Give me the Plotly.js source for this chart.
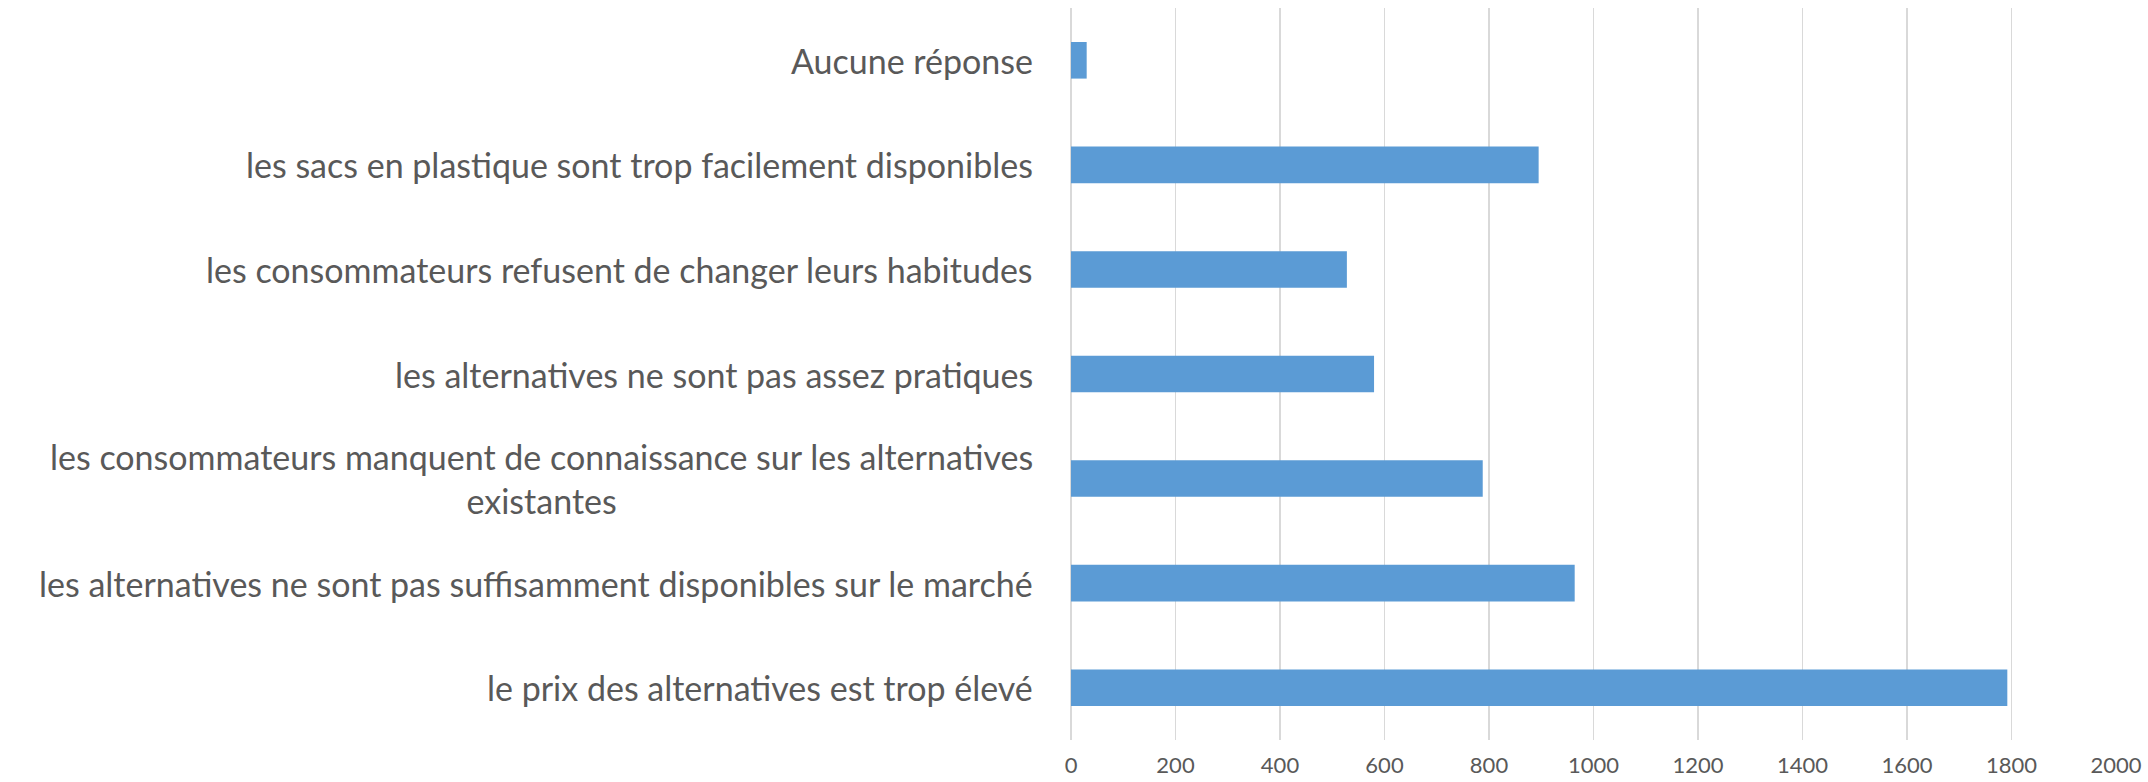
<!DOCTYPE html>
<html>
<head>
<meta charset="utf-8">
<script src="https://cdn.plot.ly/plotly-3.0.1.min.js"></script>
<style>
  html, body { margin: 0; padding: 0; background: #fff; }
  #chart { width: 2148px; height: 782px; }
</style>
</head>
<body>
<div id="chart"></div>
<script>
// categories, top to bottom as in the picture
const categories = [
  'Aucune réponse',
  'les sacs en plastique sont trop facilement disponibles',
  'les consommateurs refusent de changer leurs habitudes',
  'les alternatives ne sont pas assez pratiques',
  'les consommateurs manquent de connaissance sur les alternatives<br>existantes',
  'les alternatives ne sont pas suffisamment disponibles sur le marché',
  'le prix des alternatives est trop élevé'
];
const values = [30, 895, 528, 580, 788, 964, 1792];
const xTicks = [0, 200, 400, 600, 800, 1000, 1200, 1400, 1600, 1800, 2000];

const textFont = "Lato, 'Liberation Sans', sans-serif";
const grey = '#595959';

const trace = {
  type: 'bar',
  orientation: 'h',
  x: values,
  y: categories,
  marker: { color: '#5b9bd5' },
  hoverinfo: 'x+y'
};

// category labels as annotations so the two-line label can be centred like Excel
const labels = categories.map(c => ({
  text: c,
  xref: 'paper', yref: 'y',
  x: 0, y: c,
  xanchor: 'right', yanchor: 'middle',
  xshift: -36,
  align: 'center',
  showarrow: false,
  font: { family: textFont, size: 34, color: grey }
}));

const layout = {
  width: 2148,
  height: 782,
  margin: { l: 1071, r: 32, t: 8, b: 42 },
  paper_bgcolor: '#ffffff',
  plot_bgcolor: '#ffffff',
  bargap: 0.65,
  showlegend: false,
  xaxis: {
    range: [0, 2000],
    tickvals: xTicks,
    ticktext: xTicks.map(String),
    showgrid: true,
    gridcolor: '#d9d9d9',
    gridwidth: 1.5,
    zeroline: true,
    zerolinecolor: '#d9d9d9',
    zerolinewidth: 1.5,
    showline: false,
    ticks: '',
    ticklabelstandoff: 10,
    tickfont: { family: textFont, size: 22, color: grey },
    fixedrange: true
  },
  yaxis: {
    type: 'category',
    categoryorder: 'array',
    categoryarray: categories,
    autorange: 'reversed',
    showticklabels: false,
    showgrid: false,
    zeroline: false,
    showline: false,
    ticks: '',
    fixedrange: true
  },
  annotations: labels
};

Plotly.newPlot('chart', [trace], layout, { displayModeBar: false, staticPlot: true });
</script>
</body>
</html>
